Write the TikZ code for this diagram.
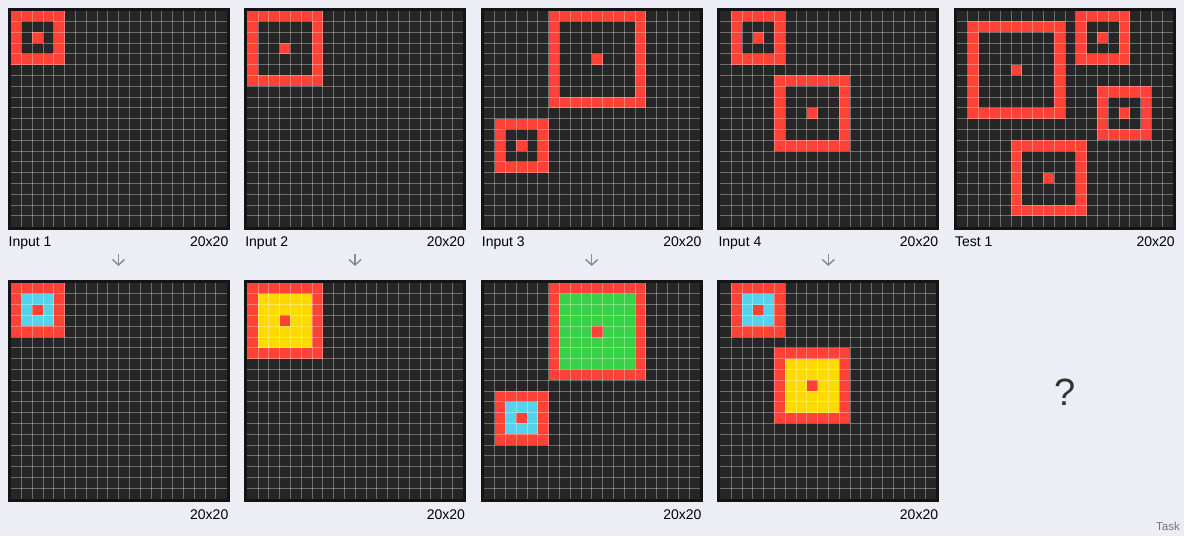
\documentclass[tikz,border=0pt]{standalone}
\usepackage{fontspec}
\setmainfont{Liberation Sans}
\usepackage{xcolor}
\usepackage{tikz}
\usetikzlibrary{arrows.meta,calc}
\definecolor{pagebg}{HTML}{EDEEF5}
\definecolor{gridbg}{HTML}{262626}
\definecolor{gridframe}{HTML}{141414}
\definecolor{arcred}{HTML}{FF4136}
\definecolor{arccyan}{HTML}{54D3EA}
\definecolor{arcyellow}{HTML}{FFDA00}
\definecolor{arcgreen}{HTML}{3AD148}
\newcommand{\cellsz}{10.8}
% one 20x20 panel, outer corner at (#2,#3)
\newcommand{\arcpanel}[3]{%
  \node[panel] (#1) at ({#2+111},{#3+111}) {};
  \coordinate (#1o) at ({#2+3},{#3+3});}
% red ring with red centre cell: row #2, col #3, side #4, inside colour #5
\newcommand{\ring}[5]{%
  \fill[arcred,shift={(#1o)}] ({#3*\cellsz},{#2*\cellsz}) rectangle ++({#4*\cellsz},{#4*\cellsz});
  \fill[#5,shift={(#1o)}] ({(#3+1)*\cellsz},{(#2+1)*\cellsz}) rectangle ++({(#4-2)*\cellsz},{(#4-2)*\cellsz});
  \fill[arcred,shift={(#1o)}] ({(#3+(#4-1)/2)*\cellsz},{(#2+(#4-1)/2)*\cellsz}) rectangle ++(\cellsz,\cellsz);}
\newcommand{\gridlines}[1]{%
  \foreach \k in {1,...,19}{
    \draw[gridln,shift={(#1o)}] ({\k*\cellsz},0) -- ++(0,216);
    \draw[gridln,shift={(#1o)}] (0,{\k*\cellsz}) -- ++(216,0);}}

\begin{document}
\begin{tikzpicture}[x=1pt,y=-1pt,
  panel/.style={rectangle,draw=gridframe,line width=3pt,fill=gridbg,
                inner sep=0pt,minimum size=219pt},
  gridln/.style={white,opacity=0.33,line width=0.7pt},
  lab/.style={font=\fontsize{14}{16}\selectfont,text=black,inner sep=0pt},
  flow/.style={-{Straight Barb[length=5.5pt,width=12pt]},line width=1.5pt,draw=black!45},
  qmark/.style={font=\fontsize{38}{40}\selectfont,text=black!80},
  tasklab/.style={font=\fontsize{11.5}{13}\selectfont,text=black!55,inner sep=0pt}
]
\fill[pagebg] (0,0) rectangle (1184,536);
\useasboundingbox (0,0) rectangle (1184,536);

% inputs and test
\arcpanel{in1}{7.5}{7.5}
\arcpanel{in2}{244.1}{7.5}
\arcpanel{in3}{480.7}{7.5}
\arcpanel{in4}{717.3}{7.5}
\arcpanel{test1}{953.9}{7.5}
% outputs
\arcpanel{out1}{7.5}{280}
\arcpanel{out2}{244.1}{280}
\arcpanel{out3}{480.7}{280}
\arcpanel{out4}{717.3}{280}

\ring{in1}{0}{0}{5}{gridbg}
\ring{out1}{0}{0}{5}{arccyan}
\ring{in2}{0}{0}{7}{gridbg}
\ring{out2}{0}{0}{7}{arcyellow}
\ring{in3}{0}{6}{9}{gridbg}
\ring{in3}{10}{1}{5}{gridbg}
\ring{out3}{0}{6}{9}{arcgreen}
\ring{out3}{10}{1}{5}{arccyan}
\ring{in4}{0}{1}{5}{gridbg}
\ring{in4}{6}{5}{7}{gridbg}
\ring{out4}{0}{1}{5}{arccyan}
\ring{out4}{6}{5}{7}{arcyellow}
\ring{test1}{1}{1}{9}{gridbg}
\ring{test1}{0}{11}{5}{gridbg}
\ring{test1}{7}{13}{5}{gridbg}
\ring{test1}{12}{5}{7}{gridbg}

\foreach \p in {in1,in2,in3,in4,test1,out1,out2,out3,out4}
  \gridlines{\p};

\foreach \p/\t in {in1/Input 1,in2/Input 2,in3/Input 3,in4/Input 4,test1/Test 1}
  \node[lab,anchor=base west] (\p-title) at ([shift={(1,17)}]\p.south west) {\t};
\foreach \p in {in1,in2,in3,in4,test1,out1,out2,out3,out4}
  \node[lab,anchor=base east] (\p-size) at ([shift={(-1,17)}]\p.south east) {20x20};

\foreach \i in {1,...,4}
  \draw[flow] ([shift={(0,24)}]in\i.south) -- ([shift={(0,-14)}]out\i.north);

\node[qmark] (answer) at (1065,392) {?};
\node[tasklab,anchor=base east] (task) at (1180,530) {Task};
\end{tikzpicture}
\end{document}
